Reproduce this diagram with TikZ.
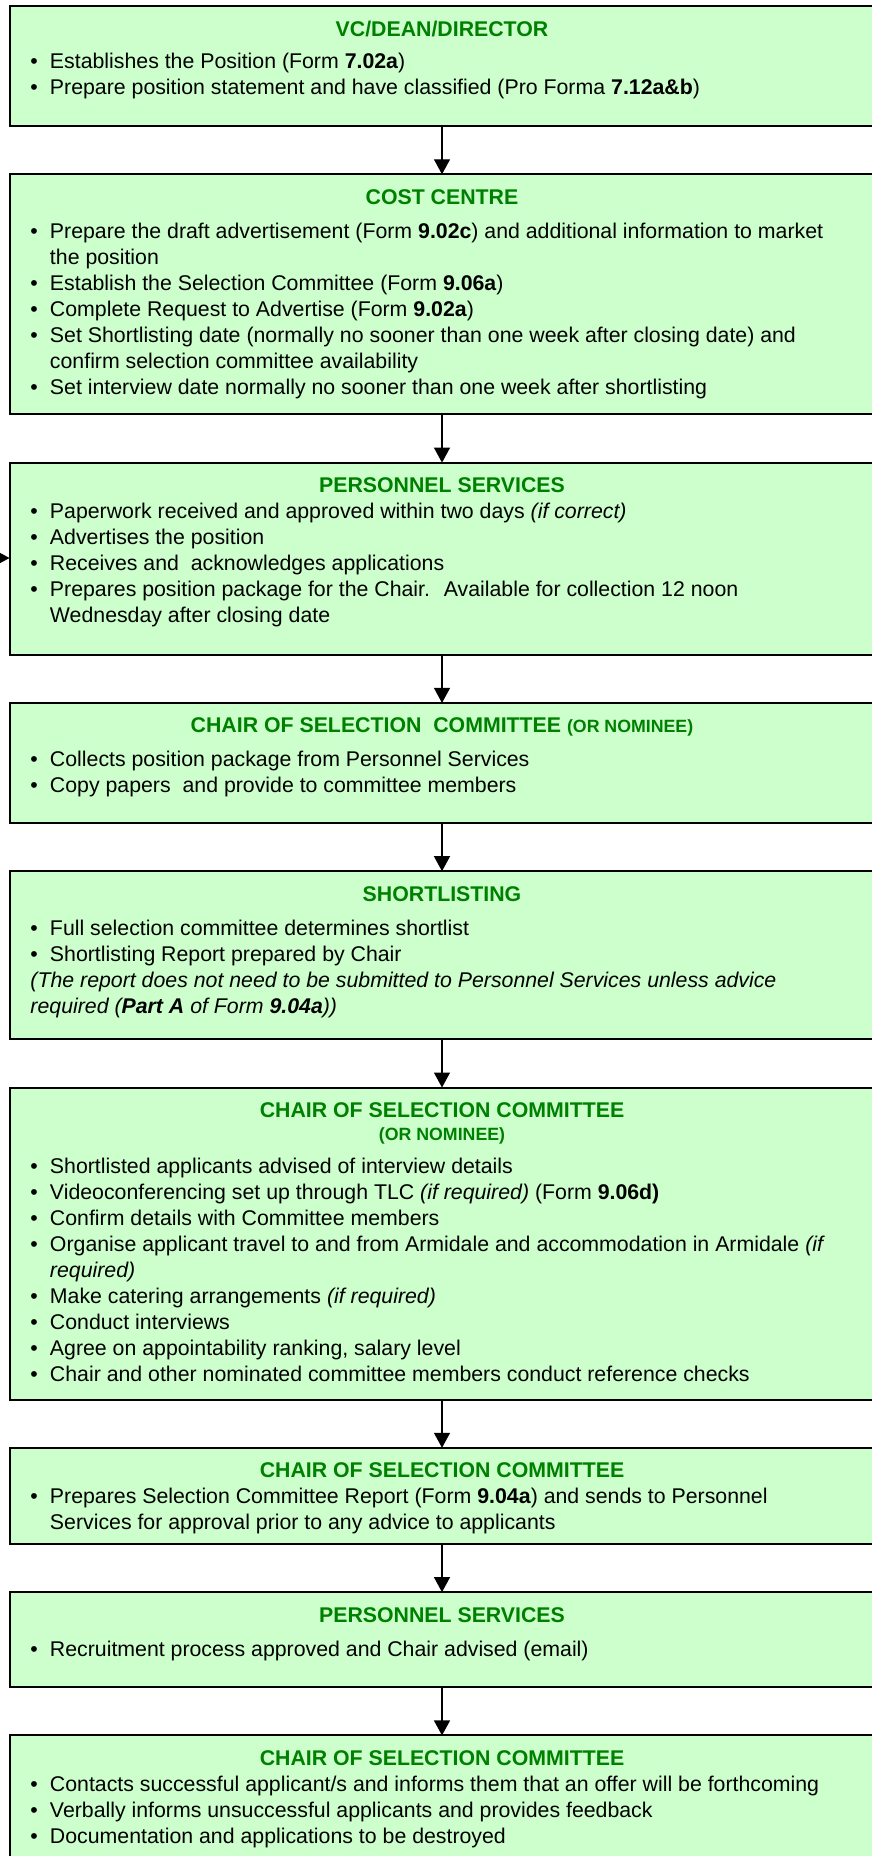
\documentclass[tikz,border=0pt]{standalone}
\usepackage{fontspec}
\setmainfont{Liberation Sans}
\usetikzlibrary{positioning, arrows.meta}

\definecolor{stagefill}{HTML}{CCFFCC}
\definecolor{headgreen}{HTML}{008000}

% heading line of a stage box
\newcommand{\stagehead}[1]{{\centering\rule{0pt}{30pt}\color{headgreen}\bfseries #1\par}}
\newcommand{\smallhead}[1]{{\fontsize{17.75}{23}\selectfont #1}}
% bulleted tasks
\newenvironment{tasks}{\list{\textbullet}{%
    \setlength\leftmargin{19.5pt}\setlength\labelwidth{19.5pt}%
    \setlength\labelsep{0pt}\setlength\itemsep{0pt}\setlength\parsep{0pt}%
    \setlength\topsep{0pt}\setlength\partopsep{0pt}%
    \def\makelabel##1{##1\hfil}}}{\endlist}
\newcommand{\stagebody}[2]{\begin{minipage}[t][#1][t]{823pt}\raggedright #2\end{minipage}}

\begin{document}
\begin{tikzpicture}[x=1pt, y=1pt,
    stage/.style={draw=black, line width=2pt, fill=stagefill, inner ysep=0pt,
        inner xsep=21pt, outer sep=0pt, font=\fontsize{21.3}{26}\selectfont},
    flow/.style={-{Triangle[width=16pt, length=15pt]}, line width=1.3pt},
    node distance=48.3pt]
    \useasboundingbox (0,0) rectangle (871,-1856);

    \node[stage, anchor=north] (vc) at (442,-6) {\stagebody{120pt}{%
        \stagehead{VC/DEAN/DIRECTOR}\vspace{6pt}
        \begin{tasks}
        \item Establishes the Position (Form \textbf{7.02a})
        \item Prepare position statement and have classified (Pro Forma \textbf{7.12a\&b})
        \end{tasks}}};
    \node[stage, below=of vc] (cost) {\stagebody{240pt}{%
        \stagehead{COST CENTRE}\vspace{8pt}
        \begin{tasks}
        \item Prepare the draft advertisement (Form \textbf{9.02c}) and additional information to market\newline the position
        \item Establish the Selection Committee (Form \textbf{9.06a})
        \item Complete Request to Advertise (Form \textbf{9.02a})
        \item Set Shortlisting date (normally no sooner than one week after closing date) and\newline confirm selection committee availability
        \item Set interview date normally no sooner than one week after shortlisting
        \end{tasks}}};
    \node[stage, below=of cost] (pers) {\stagebody{192pt}{%
        \stagehead{PERSONNEL SERVICES}
        \begin{tasks}
        \item Paperwork received and approved within two days \textit{(if correct)}
        \item Advertises the position
        \item Receives and~ acknowledges applications
        \item Prepares position package for the Chair.~ Available for collection 12 noon\newline Wednesday after closing date
        \end{tasks}}};
    \node[stage, below=of pers] (chair) {\stagebody{120pt}{%
        \stagehead{CHAIR OF SELECTION~ COMMITTEE \smallhead{(OR NOMINEE)}}\vspace{8pt}
        \begin{tasks}
        \item Collects position package from Personnel Services
        \item Copy papers~ and provide to committee members
        \end{tasks}}};
    \node[stage, below=of chair] (short) {\stagebody{168pt}{%
        \stagehead{SHORTLISTING}\vspace{8pt}
        \begin{tasks}
        \item Full selection committee determines shortlist
        \item Shortlisting Report prepared by Chair
        \end{tasks}
        \textit{(The report does not need to be submitted to Personnel Services unless advice\newline required (\textbf{Part A} of Form \textbf{9.04a}))}}};
    \node[stage, below=of short] (inter) {\stagebody{312pt}{%
        \stagehead{CHAIR OF SELECTION COMMITTEE}
        {\centering\color{headgreen}\bfseries\smallhead{(OR NOMINEE)\par}}\vspace{7pt}
        \begin{tasks}
        \item Shortlisted applicants advised of interview details
        \item Videoconferencing set up through TLC \textit{(if required)} (Form \textbf{9.06d)}
        \item Confirm details with Committee members
        \item Organise applicant travel to and from Armidale and accommodation in Armidale \textit{(if\newline required)}
        \item Make catering arrangements \textit{(if required)}
        \item Conduct interviews
        \item Agree on appointability ranking, salary level
        \item Chair and other nominated committee members conduct reference checks
        \end{tasks}}};
    \node[stage, below=of inter] (report) {\stagebody{96pt}{%
        \stagehead{CHAIR OF SELECTION COMMITTEE}
        \begin{tasks}
        \item Prepares Selection Committee Report (Form \textbf{9.04a}) and sends to Personnel\newline Services for approval prior to any advice to applicants
        \end{tasks}}};
    \node[stage, below=of report] (approve) {\stagebody{95pt}{%
        \stagehead{PERSONNEL SERVICES}\vspace{8pt}
        \begin{tasks}
        \item Recruitment process approved and Chair advised (email)
        \end{tasks}}};
    \node[stage, below=of approve] (final) {\stagebody{170pt}{%
        \stagehead{CHAIR OF SELECTION COMMITTEE}
        \begin{tasks}
        \item Contacts successful applicant/s and informs them that an offer will be forthcoming
        \item Verbally informs unsuccessful applicants and provides feedback
        \item Documentation and applications to be destroyed
        \end{tasks}}};

    \draw[flow] (vc) -- (cost);
    \draw[flow] (cost) -- (pers);
    \draw[flow] (pers) -- (chair);
    \draw[flow] (chair) -- (short);
    \draw[flow] (short) -- (inter);
    \draw[flow] (inter) -- (report);
    \draw[flow] (report) -- (approve);
    \draw[flow] (approve) -- (final);
    % feed from the left into personnel services
    \coordinate (feed) at (-40,-558);
    \draw[flow] (feed) -- (feed -| pers.west);
\end{tikzpicture}
\end{document}
